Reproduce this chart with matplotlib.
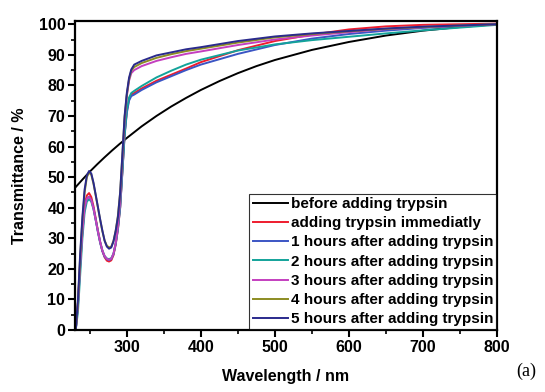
import matplotlib
matplotlib.use("Agg")
import matplotlib.pyplot as plt
from matplotlib.ticker import MultipleLocator

plt.rcParams['font.family'] = ['Liberation Sans', 'DejaVu Sans']

# ---- data ----
wl_black = [230, 240, 250, 260, 270, 280, 290, 300, 320, 340, 360, 380, 400,
            425, 450, 475, 500, 550, 600, 650, 700, 750, 800]
t_black = [46.5, 49.2, 51.8, 54.2, 56.5, 58.7, 60.8, 62.8, 66.6, 70.0, 73.1, 75.9, 78.5,
           81.4, 84.0, 86.3, 88.3, 91.6, 94.2, 96.3, 97.9, 99.1, 100.0]

wl = [231, 234, 237, 240, 243, 246, 249, 252, 255, 258, 261, 264, 267, 270, 273, 276,
      279, 282, 285, 288, 291, 294, 297, 300, 303, 306, 310, 320, 340, 360, 380, 400,
      450, 500, 550, 600, 650, 700, 750, 800]

t_immediate = [0, 9, 22, 33, 41, 44, 44.8, 43.5, 40.5, 36.5, 32.5, 28.8, 25.8, 23.8, 22.7, 22.4,
               22.8, 24.5, 28, 33, 40, 52, 64, 71.5, 75.5, 77, 77.5, 79, 81.5, 83.5, 85.5, 87.6,
               91.5, 94.5, 96.6, 98.3, 99.3, 99.8, 100.0, 100.2]
t_1h = [0, 8, 21, 32, 40, 43, 43.6, 42.5, 39.8, 36.0, 32.0, 28.5, 25.8, 24.0, 23.2, 22.9,
        23.2, 24.8, 28.2, 33, 40, 51.5, 63.5, 71, 75, 76.5, 77.0, 78.5, 81.0, 83.0, 85.0, 86.8,
        90.3, 93.2, 95.3, 96.8, 97.9, 98.8, 99.4, 100.0]
t_2h = [0, 6, 18, 30, 38.5, 42, 42.8, 42.0, 39.5, 36.0, 32.2, 28.8, 26.0, 24.2, 23.4, 23.2,
        23.5, 25.0, 28.4, 33.5, 40.5, 52, 64, 72, 76, 77.5, 78.2, 79.8, 82.6, 84.8, 86.8, 88.4,
        91.4, 93.4, 94.8, 95.9, 97.0, 98.0, 98.9, 99.8]
t_3h = [0, 8, 21, 32, 40, 43, 43.5, 42.5, 39.8, 36.0, 32.2, 28.8, 26.0, 24.2, 23.3, 23.0,
        23.3, 25.0, 28.5, 34, 42, 55, 68, 76.5, 81.5, 84, 85.0, 86.3, 88.0, 89.2, 90.3, 91.1,
        93.2, 95.0, 96.3, 97.4, 98.4, 99.0, 99.5, 100.0]
t_4h = [0, 9, 24, 36, 45, 50, 51.5, 50.8, 47.8, 44.0, 40.0, 36.0, 32.3, 29.3, 27.6, 27.0,
        27.3, 29.2, 32.5, 37.5, 45, 57, 69.5, 77, 82, 84.8, 86.0, 87.3, 89.0, 90.2, 91.2, 92.0,
        94.0, 95.7, 96.8, 97.7, 98.5, 99.1, 99.6, 100.0]
t_5h = [0, 10, 25, 37, 46, 50.5, 52.0, 51.2, 48.2, 44.2, 40.2, 36.2, 32.5, 29.2, 27.3, 26.6,
        27.0, 29.0, 32.5, 37.0, 45, 57.5, 70, 77.5, 82.5, 85.2, 86.8, 88.0, 89.8, 90.8, 91.8, 92.5,
        94.5, 96.0, 97.0, 97.8, 98.6, 99.2, 99.6, 100.0]

labels = ["before adding trypsin", "adding trypsin immediatly",
          "1 hours after adding trypsin", "2 hours after adding trypsin",
          "3 hours after adding trypsin", "4 hours after adding trypsin",
          "5 hours after adding trypsin"]
colors = ["#000000", "#ee1c2e", "#3b55c4", "#13a39a", "#c43fbf", "#8c8c22", "#2a2a8c"]

x_ticks = [300, 400, 500, 600, 700, 800]
y_ticks = [0, 10, 20, 30, 40, 50, 60, 70, 80, 90, 100]

# ---- plot ----
fig = plt.figure(figsize=(5.45, 3.92), dpi=100)
ax = fig.add_axes([0.1376, 0.158, 0.7744, 0.788])

series = [t_immediate, t_1h, t_2h, t_3h, t_4h, t_5h]
lines = []
l0, = ax.plot(wl_black, t_black, color=colors[0], lw=1.4, label=labels[0])
lines.append(l0)
for s, c, lab in zip(series, colors[1:], labels[1:]):
    l, = ax.plot(wl, s, color=c, lw=1.4, label=lab)
    lines.append(l)

ax.set_xlim(230, 800)
ax.set_ylim(0, 101)
ax.set_xticks(x_ticks)
ax.set_yticks(y_ticks)
ax.xaxis.set_minor_locator(MultipleLocator(50))
ax.yaxis.set_minor_locator(MultipleLocator(5))
ax.tick_params(axis='both', which='major', direction='out', length=5, width=1.5,
               labelsize=11.5, top=False, right=False, pad=2)
ax.tick_params(axis='both', which='minor', direction='out', length=3, width=1.2,
               top=False, right=False)
for lab in ax.get_xticklabels() + ax.get_yticklabels():
    lab.set_fontweight('bold')
for sp in ax.spines.values():
    sp.set_linewidth(1.6)

ax.set_xlabel("Wavelength / nm", fontsize=11.5, fontweight='bold', labelpad=10)
ax.set_ylabel("Transmittance / %", fontsize=11.5, fontweight='bold', labelpad=8)

leg = ax.legend(handles=lines, loc='lower right', frameon=True,
                fancybox=False, edgecolor='black', borderaxespad=0.05,
                handlelength=2.3, handletextpad=0.2, labelspacing=0.34,
                borderpad=0.2, prop={'weight': 'bold', 'size': 11})
leg.get_frame().set_linewidth(0.8)

fig.text(0.965, 0.03, "(a)", fontsize=13, family='Liberation Serif',
         ha='center', va='bottom')

fig.savefig("out.png", dpi=100)
